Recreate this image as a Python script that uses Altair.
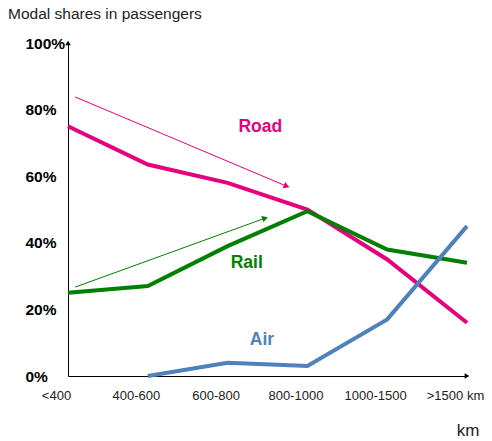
import math
import altair as alt
import pandas as pd

# Distance bands and modal shares (%) of passengers
categories = ["<400", "400-600", "600-800", "800-1000", "1000-1500", ">1500 km"]
road = [75, 63.5, 58, 50, 35, 16]
rail = [25, 27, 39, 49.5, 38, 34]
air = [None, 0, 4, 3, 17, 45]

modes = ["Road", "Rail", "Air"]
colors = ["#E6007E", "#008000", "#4F81BD"]
label_colors = ["#D83C9E", "#1A8C1A", "#4F81BD"]

# Where each mode name is written (band index, share %)
label_x = [2.41, 2.24, 2.43]
label_y = [74.8, 34.0, 10.8]

# Trend arrows: start/end in (band index, share %)
arrow_mode = ["Road", "Rail"]
arrow_x = [0.09, 0.09]
arrow_y = [83.8, 26.7]
arrow_x2 = [2.74, 2.47]
arrow_y2 = [57.0, 47.4]

W, H = 399, 333
XMAX = 5

rows = []
for mode, vals in zip(modes, [road, rail, air]):
    for i, v in enumerate(vals):
        if v is not None:
            rows.append({"mode": mode, "idx": i, "share": v})
lines_df = pd.DataFrame(rows)

arrows_df = pd.DataFrame({
    "mode": arrow_mode, "x": arrow_x, "y": arrow_y, "x2": arrow_x2, "y2": arrow_y2,
})
arrows_df["angle"] = [
    math.degrees(math.atan2(-(y2 - y1) * H / 100, (x2 - x1) * W / XMAX)) % 360
    for x1, y1, x2, y2 in zip(arrow_x, arrow_y, arrow_x2, arrow_y2)
]

labels_df = pd.DataFrame({"mode": modes, "x": label_x, "y": label_y})

label_expr = "[" + ",".join("'" + c + "'" for c in categories) + "][datum.value]"

x_scale = alt.Scale(domain=[0, XMAX], nice=False, zero=False)
y_scale = alt.Scale(domain=[0, 100], nice=False)
color_scale = alt.Scale(domain=modes, range=colors)
label_scale = alt.Scale(domain=modes, range=label_colors)

x_axis = alt.Axis(
    values=list(range(len(categories))), labelExpr=label_expr, title=None,
    grid=False, ticks=False, labelPadding=13, labelOffset=-12,
    labelOverlap=False, labelBound=False, labelFlush=False,
    labelFont="Liberation Sans", labelFontSize=13, labelColor="#222222",
    domainColor="#000000", domainWidth=1,
)
y_axis = alt.Axis(
    values=[0, 20, 40, 60, 80, 100], labelExpr="datum.value + '%'", title=None,
    grid=False, ticks=False, labelAlign="left", labelPadding=43,
    labelOverlap=False, labelFlush=False,
    labelFont="Liberation Sans", labelFontSize=15.5, labelFontWeight="bold",
    labelColor="#000000", domainColor="#000000", domainWidth=1,
)

base_x = alt.X("idx:Q", scale=x_scale, axis=x_axis)
base_y = alt.Y("share:Q", scale=y_scale, axis=y_axis)

lines = alt.Chart(lines_df).mark_line(strokeWidth=4).encode(
    x=base_x, y=base_y,
    color=alt.Color("mode:N", scale=color_scale, legend=None),
    detail="mode:N",
)

arrow_lines = alt.Chart(arrows_df).mark_rule(strokeWidth=1).encode(
    x=alt.X("x:Q", scale=x_scale), y=alt.Y("y:Q", scale=y_scale),
    x2="x2:Q", y2="y2:Q",
    color=alt.Color("mode:N", scale=color_scale, legend=None),
)
arrow_heads = alt.Chart(arrows_df).mark_point(
    shape="triangle-right", filled=True, opacity=1, size=45
).encode(
    x=alt.X("x2:Q", scale=x_scale), y=alt.Y("y2:Q", scale=y_scale),
    angle=alt.Angle("angle:Q", scale=None),
    color=alt.Color("mode:N", scale=color_scale, legend=None),
)

mode_labels = alt.Chart(labels_df).mark_text(
    font="Liberation Sans", fontSize=17.5, fontWeight="bold"
).encode(
    x=alt.X("x:Q", scale=x_scale), y=alt.Y("y:Q", scale=y_scale),
    text="mode:N",
    color=alt.Color("mode:N", scale=label_scale, legend=None),
)

# Arrow tips on the two axes
axis_tips = alt.Chart(pd.DataFrame({
    "x": [0, XMAX], "y": [100, 0], "shape": ["triangle-up", "triangle-right"],
})).mark_point(filled=True, opacity=1, size=30, color="#000000").encode(
    x=alt.X("x:Q", scale=x_scale), y=alt.Y("y:Q", scale=y_scale),
    shape=alt.Shape("shape:N", scale=None),
)

title_text = alt.Chart(pd.DataFrame({"t": ["Modal shares in passengers"]})).mark_text(
    font="Liberation Sans", fontSize=15.5, color="#222222", align="left", baseline="middle"
).encode(text="t:N", x=alt.value(-60), y=alt.value(-29))

km_text = alt.Chart(pd.DataFrame({"t": ["km"]})).mark_text(
    font="Liberation Sans", fontSize=17, color="#222222", align="center", baseline="middle"
).encode(text="t:N", x=alt.value(400), y=alt.value(388))

chart = alt.layer(
    arrow_lines, arrow_heads, lines, mode_labels, axis_tips, title_text, km_text
).properties(
    width=W, height=H,
    autosize=alt.AutoSizeParams(type="none"),
    padding={"left": 68, "top": 43, "right": 25, "bottom": 65},
    background="#ffffff",
).configure_view(stroke=None)

chart.save("out.html", embed_options={"renderer": "svg", "actions": False})
